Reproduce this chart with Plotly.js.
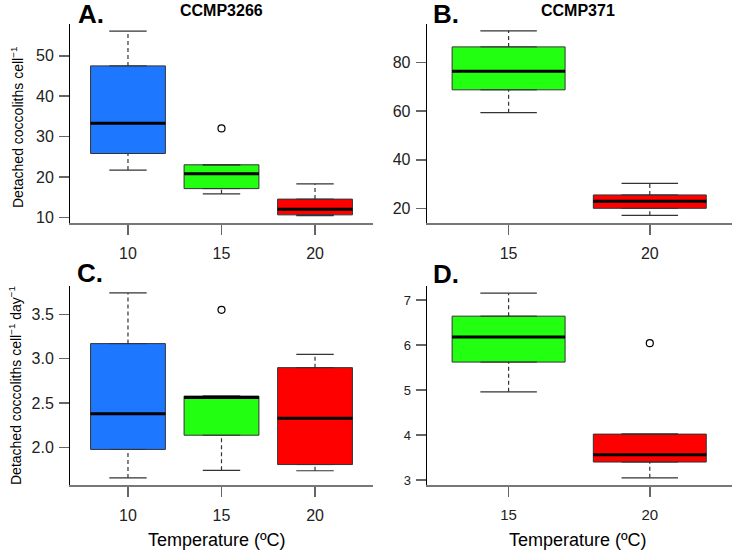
<!DOCTYPE html>
<html>
<head>
<meta charset="utf-8">
<script src="https://cdn.plot.ly/plotly-3.0.1.min.js"></script>
<style>html,body{margin:0;padding:0;background:#fff;}#chart{width:733px;height:551px;}</style>
</head>
<body>
<div id="chart"></div>
<script>
// ---- Data ----
// Panel A: CCMP3266, detached coccoliths per cell
const catsA = ["10", "15", "20"];
const upperA = [56.1, 23.0, 18.3];
const q3A    = [47.5, 23.0, 14.5];
const medA   = [33.3, 20.8, 12.0];
const q1A    = [25.8, 17.1, 10.6];
const lowerA = [21.7, 15.8, 10.4];
const outIdxA = [1];
const outValA = [32.0];

// Panel B: CCMP371, detached coccoliths per cell
const catsB = ["15", "20"];
const upperB = [93.1, 30.3];
const q3B    = [86.5, 25.5];
const medB   = [76.5, 22.9];
const q1B    = [68.8, 20.0];
const lowerB = [59.4, 17.1];
const outIdxB = [];
const outValB = [];

// Panel C: CCMP3266, detached coccoliths per cell per day
const catsC = ["10", "15", "20"];
const upperC = [3.74, 2.58, 3.05];
const q3C    = [3.17, 2.58, 2.90];
const medC   = [2.38, 2.565, 2.33];
const q1C    = [1.98, 2.14, 1.81];
const lowerC = [1.66, 1.745, 1.74];
const outIdxC = [1];
const outValC = [3.55];

// Panel D: CCMP371, detached coccoliths per cell per day
const catsD = ["15", "20"];
const upperD = [7.15, 4.02];
const q3D    = [6.64, 4.02];
const medD   = [6.18, 3.56];
const q1D    = [5.62, 3.40];
const lowerD = [4.96, 3.05];
const outIdxD = [1];
const outValD = [6.04];

const colorsByTemp = {"10": "#1E78FF", "15": "#22FF10", "20": "#FF0000"};

// ---- Build traces ----
const FONT = "Liberation Sans, Arial, Helvetica, sans-serif";
const traces = [];
function addPanel(cats, upper, q3, med, q1, lower, outIdx, outVal, xa, ya) {
  const BW = 0.8, CAP = 0.2;
  cats.forEach((c, i) => {
    traces.push({
      type: "box", x: [i], q1: [q1[i]], median: [med[i]], q3: [q3[i]],
      lowerfence: [q1[i]], upperfence: [q3[i]],
      width: BW, fillcolor: colorsByTemp[c],
      line: {color: "#333333", width: 1}, boxpoints: false,
      xaxis: xa, yaxis: ya, showlegend: false, hoverinfo: "skip"
    });
  });
  const wx = [], wy = [], cx = [], cy = [], mx = [], my = [];
  cats.forEach((c, i) => {
    wx.push(i, i, null, i, i, null);
    wy.push(q3[i], upper[i], null, lower[i], q1[i], null);
    cx.push(i - CAP, i + CAP, null, i - CAP, i + CAP, null);
    cy.push(upper[i], upper[i], null, lower[i], lower[i], null);
    mx.push(i - BW / 2, i + BW / 2, null);
    my.push(med[i], med[i], null);
  });
  traces.push({type: "scatter", mode: "lines", x: wx, y: wy, xaxis: xa, yaxis: ya,
    line: {color: "#333333", width: 1.2, dash: "4px,3px"}, showlegend: false, hoverinfo: "skip"});
  traces.push({type: "scatter", mode: "lines", x: cx, y: cy, xaxis: xa, yaxis: ya,
    line: {color: "#333333", width: 1.2}, showlegend: false, hoverinfo: "skip"});
  traces.push({type: "scatter", mode: "lines", x: mx, y: my, xaxis: xa, yaxis: ya,
    line: {color: "#000000", width: 3}, showlegend: false, hoverinfo: "skip"});
  if (outIdx.length) {
    traces.push({type: "scatter", mode: "markers", x: outIdx, y: outVal, xaxis: xa, yaxis: ya,
      marker: {symbol: "circle-open", size: 7, color: "#000", line: {width: 1.2, color: "#000"}},
      showlegend: false, hoverinfo: "skip"});
  }
}
addPanel(catsA, upperA, q3A, medA, q1A, lowerA, outIdxA, outValA, "x", "y");
addPanel(catsB, upperB, q3B, medB, q1B, lowerB, outIdxB, outValB, "x2", "y2");
addPanel(catsC, upperC, q3C, medC, q1C, lowerC, outIdxC, outValC, "x3", "y3");
addPanel(catsD, upperD, q3D, medD, q1D, lowerD, outIdxD, outValD, "x4", "y4");

// ---- Layout ----
const W = 733, H = 551;
const px = v => v / W, py = v => 1 - v / H;
function xAxis(cats, dom, rng, anchor, fs) {
  return {domain: dom, range: rng, anchor: anchor, tickmode: "array",
    tickvals: cats.map((c, i) => i), ticktext: cats, showline: true, linecolor: "#777777", linewidth: 2,
    ticks: "outside", ticklen: 10, tickcolor: "#666666", tickwidth: 1.5, showgrid: false, zeroline: false,
    tickfont: {family: FONT, size: fs, color: "#222"}, ticklabelstandoff: 5, fixedrange: true};
}
function yAxis(dom, rng, anchor, dtick, fmt, fs) {
  return {domain: dom, range: rng, anchor: anchor, dtick: dtick, tickformat: fmt,
    showline: true, linecolor: "#000000", linewidth: 1,
    ticks: "outside", ticklen: 10, tickcolor: "#666666", tickwidth: 1.5, showgrid: false, zeroline: false,
    tickfont: {family: FONT, size: fs, color: "#222"}, ticklabelstandoff: 2, fixedrange: true};
}
const domL = [px(70), px(373)], domR = [px(426.7), px(731.7)];
const domT = [py(222.7), py(24.3)], domB = [py(485), py(286)];

function ann(text, x, y, size, bold, angle) {
  return {text: bold ? "<b>" + text + "</b>" : text, xref: "paper", yref: "paper",
    x: px(x), y: py(y), xanchor: "center", yanchor: "middle", showarrow: false,
    textangle: angle || 0, font: {family: FONT, size: size, color: "#000"}};
}

const layout = {
  width: W, height: H, margin: {l: 0, r: 0, t: 0, b: 0},
  paper_bgcolor: "#fff", plot_bgcolor: "#fff", showlegend: false,
  xaxis:  xAxis(catsA, domL, [-0.62, 2.62], "y", 16),
  yaxis:  yAxis(domT, [8.66, 57.8], "x", 10, "d", 16),
  xaxis2: xAxis(catsB, domR, [-0.58, 1.58], "y2", 16),
  yaxis2: yAxis(domT, [14.07, 95.8], "x2", 20, "d", 16),
  xaxis3: xAxis(catsC, domL, [-0.62, 2.62], "y3", 16),
  yaxis3: yAxis(domB, [1.58, 3.818], "x3", 0.5, ".1f", 16),
  xaxis4: xAxis(catsD, domR, [-0.58, 1.58], "y4", 15),
  yaxis4: yAxis(domB, [2.89, 7.31], "x4", 1, "d", 13),
  annotations: [
    ann("A.", 91, 14, 26, true),
    ann("B.", 446, 14, 26, true),
    ann("C.", 90, 273, 26, true),
    ann("D.", 446, 274, 26, true),
    ann("CCMP3266", 221, 11, 16, true),
    ann("CCMP371", 577.5, 11, 16, true),
    ann("Temperature (ºC)", 217, 540, 18, false),
    ann("Temperature (ºC)", 577.5, 540, 18, false),
    ann("Detached coccoliths cell<sup>−1</sup>", 17, 128, 14, false, -90),
    ann("Detached coccoliths cell<sup>−1</sup> day<sup>−1</sup>", 15, 386, 14, false, -90)
  ]
};

Plotly.newPlot("chart", traces, layout, {displayModeBar: false, staticPlot: true});
</script>
</body>
</html>
